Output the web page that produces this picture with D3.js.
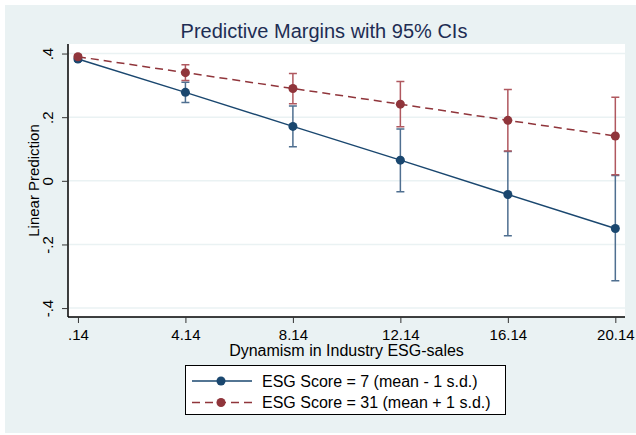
<!DOCTYPE html>
<html>
<head>
<meta charset="utf-8">
<script src="https://cdn.jsdelivr.net/npm/d3@7"></script>
<style>
  body { margin: 0; background: #fff; }
  svg { display: block; font-family: "Liberation Sans", Arial, sans-serif; }
</style>
</head>
<body>
<div id="chart"></div>
<script>
// values
const xValues = [0.14, 4.14, 8.14, 12.14, 16.14, 20.14];
const xTickLabels = ['.14', '4.14', '8.14', '12.14', '16.14', '20.14'];
const yTicks = [0.4, 0.2, 0, -0.2, -0.4];
const yTickLabels = ['.4', '.2', '0', '-.2', '-.4'];

const lowMargin = [0.383, 0.278, 0.171, 0.065, -0.043, -0.150];
const lowCiLo = [0.376, 0.246, 0.107, -0.034, -0.173, -0.314];
const lowCiHi = [0.390, 0.310, 0.235, 0.163, 0.092, 0.017];

const highMargin = [0.390, 0.340, 0.290, 0.241, 0.190, 0.141];
const highCiLo = [0.384, 0.315, 0.242, 0.170, 0.094, 0.019];
const highCiHi = [0.396, 0.365, 0.337, 0.312, 0.287, 0.263];

const seriesNames = ['ESG Score = 7 (mean - 1 s.d.)', 'ESG Score = 31 (mean + 1 s.d.)'];

const width = 636;
const height = 435;
const plot = { left: 68, right: 625, top: 44, bottom: 317 };

const navy = '#1a476f';
const maroon = '#90353b';
const navyCi = '#4f6f90';
const maroonCi = '#b0585f';

const buildSeries = (m, lo, hi) => xValues.map((x, i) => ({ x, y: m[i], lo: lo[i], hi: hi[i] }));

const series = [
  { name: seriesNames[0], color: navy, ci: navyCi, dash: null, data: buildSeries(lowMargin, lowCiLo, lowCiHi) },
  { name: seriesNames[1], color: maroon, ci: maroonCi, dash: '8,5', data: buildSeries(highMargin, highCiLo, highCiHi) }
];

const svg = d3.select('#chart').append('svg')
  .attr('width', width)
  .attr('height', height);

// outer graph region
svg.append('rect')
  .attr('x', 5).attr('y', 5)
  .attr('width', width - 5).attr('height', height - 7)
  .attr('fill', '#eaf2f3');

svg.append('rect')
  .attr('x', plot.left).attr('y', plot.top)
  .attr('width', plot.right - plot.left).attr('height', plot.bottom - plot.top)
  .attr('fill', '#fff');

const x = d3.scaleLinear().domain([-0.23, 20.5]).range([plot.left, plot.right]);
const y = d3.scaleLinear().domain([-0.428, 0.43]).range([plot.bottom, plot.top]);

// grid
svg.append('g')
  .selectAll('line')
  .data(yTicks)
  .join('line')
  .attr('x1', plot.left).attr('x2', plot.right)
  .attr('y1', d => y(d)).attr('y2', d => y(d))
  .attr('stroke', '#eaf2f3')
  .attr('stroke-width', 1.5);

// axes
const yAxis = d3.axisLeft(y)
  .tickValues(yTicks)
  .tickSize(6)
  .tickFormat((d, i) => yTickLabels[i]);

const gy = svg.append('g')
  .attr('transform', `translate(${plot.left},0)`)
  .call(yAxis)
  .attr('font-family', null);
gy.select('.domain').attr('d', `M0,${plot.top}V${plot.bottom}`).attr('stroke', '#000').attr('stroke-width', 1.5);
gy.selectAll('.tick line').attr('stroke', '#333');
gy.selectAll('.tick text')
  .attr('font-size', 15)
  .attr('fill', '#000')
  .attr('text-anchor', 'middle')
  .attr('x', 0)
  .attr('y', 0)
  .attr('dy', null)
  .attr('transform', 'translate(-15,0) rotate(-90)');

const xAxis = d3.axisBottom(x)
  .tickValues(xValues)
  .tickSize(6)
  .tickFormat((d, i) => xTickLabels[i]);

const gx = svg.append('g')
  .attr('transform', `translate(0,${plot.bottom})`)
  .call(xAxis)
  .attr('font-family', null);
gx.select('.domain').attr('d', `M${plot.left},0H${plot.right}`).attr('stroke', '#000').attr('stroke-width', 1.5);
gx.selectAll('.tick line').attr('stroke', '#333');
gx.selectAll('.tick text')
  .attr('font-size', 15)
  .attr('fill', '#000')
  .attr('y', 22.5)
  .attr('dy', null);

// titles
svg.append('text')
  .attr('x', 324).attr('y', 38)
  .attr('text-anchor', 'middle')
  .attr('font-size', 20)
  .attr('fill', '#1e2d53')
  .text('Predictive Margins with 95% CIs');

svg.append('text')
  .attr('x', (plot.left + plot.right) / 2).attr('y', 356)
  .attr('text-anchor', 'middle')
  .attr('font-size', 16)
  .attr('fill', '#000')
  .text('Dynamism in Industry ESG-sales');

svg.append('text')
  .attr('transform', `translate(38.5,${(plot.top + plot.bottom) / 2}) rotate(-90)`)
  .attr('text-anchor', 'middle')
  .attr('font-size', 15)
  .attr('fill', '#000')
  .text('Linear Prediction');

// confidence intervals
const capW = 4;
series.forEach(s => {
  const g = svg.append('g').attr('stroke', s.ci).attr('stroke-width', 1.5).attr('fill', 'none');
  g.selectAll('path')
    .data(s.data)
    .join('path')
    .attr('d', d => {
      const cx = x(d.x);
      return `M${cx},${y(d.lo)}V${y(d.hi)}M${cx - capW},${y(d.lo)}H${cx + capW}M${cx - capW},${y(d.hi)}H${cx + capW}`;
    });
});

// lines and markers
const line = d3.line().x(d => x(d.x)).y(d => y(d.y));
series.forEach(s => {
  svg.append('path')
    .datum(s.data)
    .attr('d', line)
    .attr('fill', 'none')
    .attr('stroke', s.color)
    .attr('stroke-width', 1.5)
    .attr('stroke-dasharray', s.dash);

  svg.append('g')
    .selectAll('circle')
    .data(s.data)
    .join('circle')
    .attr('cx', d => x(d.x))
    .attr('cy', d => y(d.y))
    .attr('r', 4.5)
    .attr('fill', s.color);
});

// legend
const legend = svg.append('g');
legend.append('rect')
  .attr('x', 185.5).attr('y', 365.5)
  .attr('width', 320).attr('height', 49)
  .attr('fill', '#fff')
  .attr('stroke', '#000')
  .attr('stroke-width', 1);

series.forEach((s, i) => {
  const ly = 381 + i * 21.5;
  legend.append('line')
    .attr('x1', 192).attr('x2', 252)
    .attr('y1', ly).attr('y2', ly)
    .attr('stroke', s.color)
    .attr('stroke-width', 1.5)
    .attr('stroke-dasharray', s.dash);
  legend.append('circle')
    .attr('cx', 221).attr('cy', ly).attr('r', 4.5)
    .attr('fill', s.color);
  legend.append('text')
    .attr('x', 262).attr('y', ly)
    .attr('dy', '0.35em')
    .attr('font-size', 16)
    .attr('fill', '#000')
    .text(s.name);
});
</script>
</body>
</html>
